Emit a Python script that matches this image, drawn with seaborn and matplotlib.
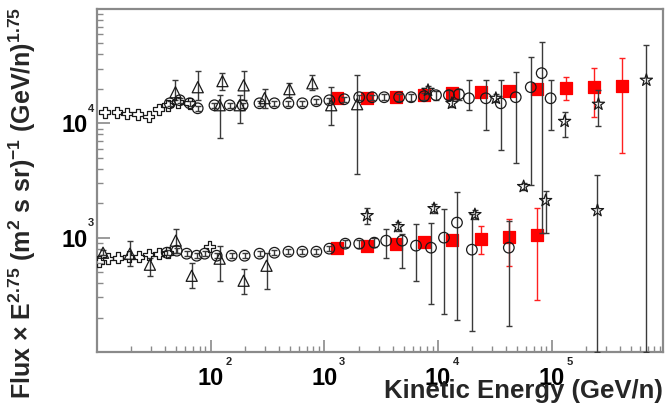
import numpy as np
import matplotlib
matplotlib.use("Agg")
import matplotlib.pyplot as plt
import seaborn as sns
import pandas as pd
from matplotlib.ticker import FixedLocator, LogLocator, FuncFormatter, NullFormatter

# ---------------- data ----------------
# upper band
up_cross_E = [11.7, 15.0, 18.3, 22.9, 28.6, 35.0, 42.0, 51.4, 65.5]
up_cross_F = [12500, 12500, 12200, 12000, 11500, 13300, 14400, 15300, 15000]

up_tri_E = [49, 77, 120, 127, 180, 195, 298, 493, 785, 1150, 1945]
up_tri_F = [18700, 20700, 14400, 23400, 14400, 21500, 16600, 19900, 22400, 14400, 14700]
up_tri_lo = [15900, 15900, 7400, 19500, 10000, 15900, 13500, 16900, 19500, 9600, 3640]
up_tri_hi = [23800, 28600, 17600, 27500, 17600, 28600, 19900, 22400, 26400, 20700, 26400]

up_circ_E = [43.7, 53.5, 65.5, 76.9, 108, 147, 191, 269, 364, 483, 641, 851, 1107, 1497,
             2027, 2636, 3360, 4550, 5800, 7540, 9600, 12480, 15280, 18700, 26370, 35700,
             48300, 65500, 81700, 97900]
up_circ_F = [14970, 15920, 14970, 13540, 14390, 14390, 14390, 14970, 14970, 14970, 14970,
             15600, 15920, 16250, 16920, 16920, 16920, 16920, 16920, 17260, 17620, 17620,
             17960, 16560, 16560, 14970, 16920, 20700, 27460, 16560]
up_circ_lo = [14200, 15100, 14200, 12800, 13600, 13600, 13600, 14200, 14200, 14200, 14200,
              14800, 15100, 15400, 16000, 16000, 15900, 15800, 15700, 15900, 16100, 15900,
              16000, 13000, 8680, 5800, 4460, 2860, 1107, 8680]
up_circ_hi = [15800, 16800, 15800, 14300, 15200, 15200, 15200, 15800, 15800, 15800, 15800,
              16400, 16800, 17100, 17800, 17800, 17900, 18000, 18100, 18600, 19300, 19500,
              20000, 23830, 23830, 23830, 28000, 37900, 51400, 23830]

up_star_E = [8170, 13270, 32300, 130000, 258000, 681000]
up_star_F = [19450, 14970, 16560, 10400, 14690, 23830]
up_star_lo = [18000, 13800, 15300, 7540, 9410, 100]
up_star_hi = [21000, 16200, 17900, 12480, 19450, 48300]

up_red_E = [1300, 2380, 4280, 7540, 13270, 23830, 42000, 73800, 132700, 238000, 420000]
up_red_F = [16560, 16560, 16920, 17620, 18330, 18700, 19100, 19870, 20290, 20700, 21120]
up_red_lo = [15600, 15600, 15900, 16500, 17100, 17300, 17500, 17900, 15920, 11290, 5450]
up_red_hi = [17600, 17600, 18000, 18800, 19600, 20200, 20800, 22000, 25360, 30340, 37150]

# lower band
lo_cross_E = [10.4, 12.5, 15.3, 19.1, 23.4, 28.6, 35.0, 42.0, 98]
lo_cross_F = [616, 655, 668, 681, 681, 710, 724, 738, 834]

lo_tri_E = [11.3, 19.5, 29.2, 49.3, 68.1, 120, 195, 310]
lo_tri_F = [738, 724, 580, 941, 464, 655, 420, 568]
lo_tri_lo = [700, 568, 464, 738, 364, 420, 323, 357]
lo_tri_hi = [780, 941, 668, 1200, 604, 851, 535, 738]

lo_circ_E = [41.1, 50.3, 61.5, 75.3, 88.5, 113, 153, 199, 269, 364, 483, 641, 851, 1107,
             1528, 2027, 2750, 3500, 4830, 6410, 8680, 11290, 14690, 19870, 42000]
lo_circ_F = [738, 769, 724, 695, 724, 695, 695, 695, 724, 738, 754, 754, 754, 801, 886,
             886, 904, 941, 941, 851, 817, 1000, 1354, 785, 817]
lo_circ_lo = [700, 730, 690, 660, 690, 660, 660, 660, 690, 700, 715, 715, 715, 760, 830,
              820, 830, 668, 546, 420, 264, 215, 191, 153, 169]
lo_circ_hi = [775, 810, 760, 730, 760, 730, 730, 730, 760, 775, 795, 795, 795, 845, 945,
              955, 985, 1200, 1084, 1327, 1354, 1795, 2484, 1624, 1410]

lo_star_E = [2380, 4460, 9230, 21130, 56700, 88500, 253000]
lo_star_F = [1560, 1249, 1795, 1592, 2800, 2113, 1725]
lo_star_lo = [1327, 1150, 1650, 1460, 2600, 1107, 100]
lo_star_hi = [1833, 1360, 1950, 1740, 3020, 2580, 3500]

lo_red_E = [1300, 2380, 4280, 7540, 13270, 23830, 42000, 73800]
lo_red_F = [817, 851, 886, 923, 960, 980, 1020, 1062]
lo_red_lo = [780, 810, 845, 880, 915, 724, 568, 286]
lo_red_hi = [855, 890, 925, 965, 1005, 1274, 1468, 1833]

x_ticks = [1e2, 1e3, 1e4, 1e5]
y_ticks = [1e3, 1e4]
x_label = "Kinetic Energy (GeV/n)"
y_label = r"Flux $\times$ E$^{2.75}$ (m$^{2}$ s sr)$^{-1}$ (GeV/n)$^{1.75}$"

# ---------------- style ----------------
sns.set_theme(style="white")
plt.rcParams["font.family"] = ["Liberation Sans", "DejaVu Sans"]
plt.rcParams["mathtext.fontset"] = "custom"
for k in ("rm", "it", "bf", "sf"):
    plt.rcParams["mathtext." + k] = "Liberation Sans:bold"

fig = plt.figure(figsize=(6.68, 4.11), dpi=100)
ax = fig.add_axes([0.1452, 0.1436, 0.847, 0.8345])
ax.set_xscale("log")
ax.set_yscale("log")

GRAY = "#3a3a3a"


def draw(E, F, lo, hi, marker, s, face, edge, ecolor, z):
    if lo is not None:
        Fa = np.array(F, float)
        yerr = [Fa - np.array(lo, float), np.array(hi, float) - Fa]
        ax.errorbar(E, F, yerr=yerr, fmt="none", ecolor=ecolor, elinewidth=1.0,
                    capsize=2.2, capthick=1.0, zorder=z - 0.5)
    df = pd.DataFrame({"E": E, "F": F})
    n0 = len(ax.collections)
    sns.scatterplot(data=df, x="E", y="F", marker=marker, s=s, ax=ax, zorder=z,
                    legend=False)
    col = ax.collections[n0]
    col.set_facecolor(face)
    col.set_edgecolor(edge)
    col.set_linewidth(0.9)
    col.set_zorder(z)


for grp in ("up", "lo"):
    g = globals()
    draw(g[grp + "_red_E"], g[grp + "_red_F"], g[grp + "_red_lo"], g[grp + "_red_hi"],
         "s", 66, "#ff0000", "#ff0000", "#ff2020", 3)
    draw(g[grp + "_cross_E"], g[grp + "_cross_F"], None, None, "P", 62, "none", "k", GRAY, 4)
    draw(g[grp + "_tri_E"], g[grp + "_tri_F"], g[grp + "_tri_lo"], g[grp + "_tri_hi"],
         "^", 64, "none", "k", GRAY, 4)
    draw(g[grp + "_circ_E"], g[grp + "_circ_F"], g[grp + "_circ_lo"], g[grp + "_circ_hi"],
         "o", 58, "none", "k", GRAY, 4)
    draw(g[grp + "_star_E"], g[grp + "_star_F"], g[grp + "_star_lo"], g[grp + "_star_hi"],
         "*", 85, "none", "k", GRAY, 4)

ax.set_xlim(10, 9.5e5)
ax.set_ylim(100, 1e5)
ax.set_xlabel("")
ax.set_ylabel("")

# tick labels: "10" as tick label, small exponent added next to it
ten = FuncFormatter(lambda v, p: "10")
ax.xaxis.set_major_locator(FixedLocator(x_ticks))
ax.yaxis.set_major_locator(FixedLocator(y_ticks))
ax.xaxis.set_major_formatter(ten)
ax.yaxis.set_major_formatter(ten)
for a in (ax.xaxis, ax.yaxis):
    a.set_minor_locator(LogLocator(base=10, subs=np.arange(2, 10), numticks=50))
    a.set_minor_formatter(NullFormatter())

SPINE = "#8a8a8a"
for sp in ax.spines.values():
    sp.set_color(SPINE)
    sp.set_linewidth(1.6)
ax.tick_params(which="both", direction="in", colors=SPINE, top=False, right=False,
               left=True, bottom=True)
ax.tick_params(which="major", length=9, width=1.2, labelsize=17, labelcolor="black")
ax.tick_params(which="minor", length=4.5, width=1.0)
ax.tick_params(axis="x", which="major", pad=10.5)
ax.tick_params(axis="y", which="major", pad=7)
for lab in ax.get_xticklabels() + ax.get_yticklabels():
    lab.set_fontweight("bold")

for v in x_ticks:
    ax.annotate(str(int(round(np.log10(v)))), xy=(v, 0), xycoords=("data", "axes fraction"),
                xytext=(10.5, -7.5), textcoords="offset points", ha="left", va="center",
                fontsize=8, fontweight="bold", annotation_clip=False)
for v in y_ticks:
    ax.annotate(str(int(round(np.log10(v)))), xy=(0, v), xycoords=("axes fraction", "data"),
                xytext=(-6.3, 10.5), textcoords="offset points", ha="left", va="center",
                fontsize=8, fontweight="bold", annotation_clip=False)

fig.text(663 / 668, 1 - 379 / 411, x_label, ha="right", va="top",
         fontsize=18.5, fontweight="bold")
fig.text(22 / 668, 1 - 203 / 411, y_label, rotation=90, ha="center", va="center",
         fontsize=18, fontweight="bold")

fig.savefig("out.png", dpi=100)
